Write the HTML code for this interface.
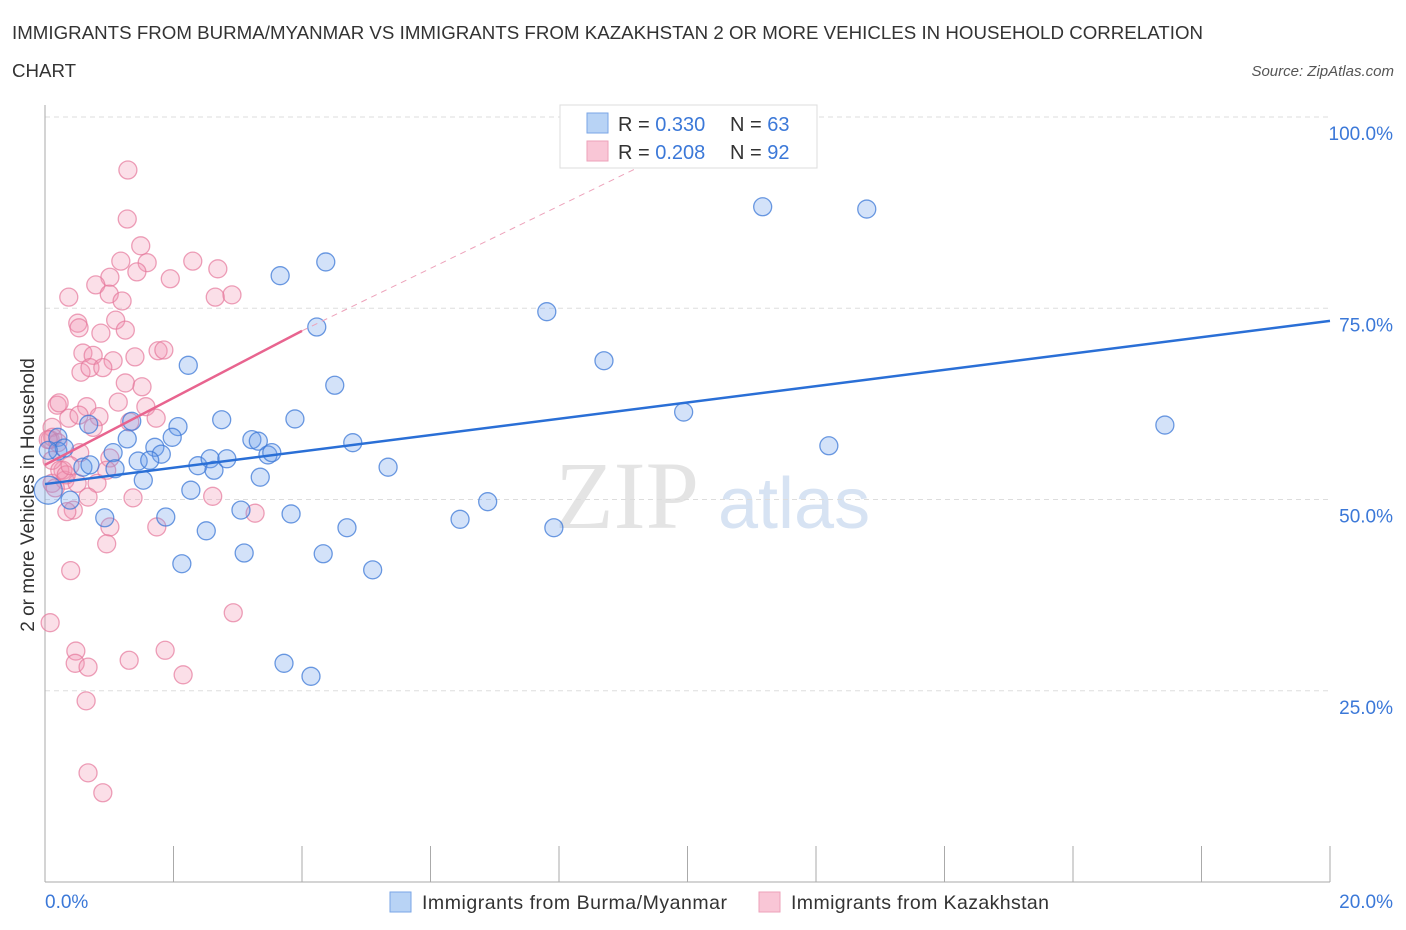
<!DOCTYPE html>
<html><head><meta charset="utf-8"><style>
body{margin:0;background:#fff;width:1406px;height:930px;overflow:hidden;font-family:"Liberation Sans",sans-serif}
svg{display:block}
</style></head><body>
<svg id="chart" width="1406" height="930">
<text x="12" y="39" font-size="18.7" fill="#333" textLength="1191">IMMIGRANTS FROM BURMA/MYANMAR VS IMMIGRANTS FROM KAZAKHSTAN 2 OR MORE VEHICLES IN HOUSEHOLD CORRELATION</text>
<text x="12" y="77" font-size="18.7" fill="#333">CHART</text>
<text x="1394" y="76" font-size="15" fill="#555" font-style="italic" text-anchor="end">Source: ZipAtlas.com</text>
<g><text x="555" y="528" font-size="96" fill="#e4e4e4" font-family="Liberation Serif,serif">ZIP</text><text x="718" y="528" font-size="72" fill="#d7e3f3">atlas</text></g>
<g id="grid"></g>
<g id="axes"></g>
<g id="marks"></g>
<g id="trends"></g>
<g>
<rect x="560" y="105" width="257" height="63" fill="#fff" stroke="#ddd"/>
<rect x="587" y="113" width="21" height="20" fill="#b8d3f5" stroke="#7aa6e6"/>
<rect x="587" y="141" width="21" height="20" fill="#f9c6d6" stroke="#eda2ba"/>
<text x="618" y="131" font-size="20" fill="#333">R = <tspan fill="#3b78d8">0.330</tspan></text>
<text x="730" y="131" font-size="20" fill="#333">N = <tspan fill="#3b78d8">63</tspan></text>
<text x="618" y="159" font-size="20" fill="#333">R = <tspan fill="#3b78d8">0.208</tspan></text>
<text x="730" y="159" font-size="20" fill="#333">N = <tspan fill="#3b78d8">92</tspan></text>
</g>
<g>
<rect x="390" y="892" width="21" height="20" fill="#b8d3f5" stroke="#7aa6e6"/>
<text x="422" y="909" font-size="19.5" fill="#333" textLength="305">Immigrants from Burma/Myanmar</text>
<rect x="759" y="892" width="21" height="20" fill="#f9c6d6" stroke="#eda2ba"/>
<text x="791" y="909" font-size="19.5" fill="#333" textLength="258">Immigrants from Kazakhstan</text>
</g>
<text transform="translate(34,495) rotate(-90)" font-size="19" fill="#333" text-anchor="middle">2 or more Vehicles in Household</text>
</svg>
<script>
const burmaX=[2.23,3.66,4.37,4.23,4.51,7.81,8.70,11.17,12.79,17.43,9.94,12.20,2.07,2.75,3.89,1.98,1.71,1.81,1.28,1.06,1.35,0.68,0.20,0.20,0.05,0.39,0.59,1.09,1.45,1.53,1.63,2.38,2.57,2.63,2.83,3.22,3.32,3.47,3.53,3.35,4.79,5.34,2.27,1.88,0.93,2.51,3.05,3.83,4.70,6.46,6.89,7.92,2.13,3.10,4.33,5.10,3.72,4.14,0.30,0.70,0.05];
const burmaY=[69.8,81.5,83.3,74.8,67.2,76.8,70.4,90.5,90.2,62.0,63.7,59.3,61.8,62.7,62.8,60.4,59.1,58.2,60.2,58.4,62.5,62.1,60.4,58.6,53.5,52.2,56.5,56.3,57.3,54.8,57.4,56.7,57.6,56.1,57.6,60.1,59.9,58.1,58.4,55.2,59.7,56.5,53.5,50.0,49.9,48.2,50.9,50.4,48.6,49.7,52.0,48.6,43.9,45.3,45.2,43.1,30.9,29.2,59.0,56.8,58.7];
const kazX=[1.29,1.28,1.49,1.18,1.59,1.43,1.01,0.79,1.00,1.20,0.37,2.30,2.69,1.95,2.65,2.91,0.51,0.53,1.10,1.25,0.87,1.76,1.85,0.59,0.75,1.40,1.06,0.56,0.70,0.90,1.25,1.51,1.14,1.57,1.73,0.19,0.22,0.65,0.84,0.37,0.53,1.32,0.75,0.11,0.08,0.12,0.20,0.54,0.28,0.31,0.11,0.50,0.81,1.01,0.96,0.67,0.44,0.34,1.37,1.01,1.74,2.61,3.27,0.96,0.40,2.93,0.08,0.48,0.47,0.67,1.31,1.87,2.15,0.64,0.67,0.90,0.11,0.23,0.33,0.05,0.16,0.39];
const kazY=[95.3,88.9,85.4,83.4,83.2,82.0,81.3,80.3,79.1,78.2,78.7,83.4,82.4,81.1,78.7,79.0,75.3,74.7,75.7,74.4,74.0,71.7,71.8,71.4,71.1,70.9,70.4,68.9,69.5,69.5,67.5,67.0,65.0,64.4,62.9,64.6,64.9,64.4,63.1,62.9,63.3,62.4,61.7,61.7,60.1,60.4,59.7,58.4,56.1,54.8,54.4,54.4,54.4,57.7,56.1,52.6,50.9,50.7,52.5,48.7,48.7,52.7,50.5,46.5,43.0,37.5,36.2,32.5,30.9,30.4,31.3,32.6,29.4,26.0,16.6,14.0,57.4,56.1,55.5,60.1,53.8,56.7];
const burmaTrend=[[0,54.3],[20,75.6]];
const kazTrend=[[0,56.8],[4,74.3]];
const kazTrendExt=[[4,74.3],[9.2,95.5]];
const yTicks=["100.0%","75.0%","50.0%","25.0%"];
const yTickVals=[100,75,50,25];

const NS="http://www.w3.org/2000/svg";
const xS=v=>45+v*64.25;
const yS=v=>900-v*7.66;
const gy=v=>882-v*7.65;
function mk(tag,attrs,parent){const e=document.createElementNS(NS,tag);for(const k in attrs)e.setAttribute(k,attrs[k]);parent.appendChild(e);return e;}
const grid=document.getElementById('grid'),axes=document.getElementById('axes'),marks=document.getElementById('marks'),trends=document.getElementById('trends');
yTickVals.forEach((v,i)=>{
  const l=mk('line',{x1:45,x2:1330,y1:gy(v),y2:gy(v),stroke:'#ddd','stroke-dasharray':'5,4'},grid);
  
  
  const t=mk('text',{x:1393,y:gy(v)+23,'font-size':19,fill:'#3b78d8','text-anchor':'end'},axes);
  t.textContent=yTicks[i];
  
  
});
const ax=mk('line',{x1:45,x2:45,y1:105,y2:882,stroke:'#aaa'},axes);


const bx=mk('line',{x1:45,x2:1330,y1:882,y2:882,stroke:'#aaa'},axes);


for(let i=0;i<=10;i++){
  const tk=mk('line',{x1:xS(i*2),x2:xS(i*2),y1:846,y2:882,stroke:'#aaa'},axes);
  
  
}
const x0=mk('text',{x:45,y:908,'font-size':19,fill:'#3b78d8'},axes);x0.textContent='0.0%';


const x1=mk('text',{x:1393,y:908,'font-size':19,fill:'#3b78d8','text-anchor':'end'},axes);x1.textContent='20.0%';


kazX.forEach((x,i)=>{
  const c=mk('circle',{cx:xS(x),cy:yS(kazY[i]),r:9,fill:'rgba(242,150,180,0.3)',stroke:'rgba(230,120,155,0.7)','stroke-width':1.3},marks);
  
  
});
burmaX.forEach((x,i)=>{
  const c=mk('circle',{cx:xS(x),cy:yS(burmaY[i]),r:i==24?14:9,fill:'rgba(110,160,235,0.3)',stroke:'rgba(60,120,215,0.75)','stroke-width':1.3},marks);
  
  
});
const bt=mk('line',{x1:xS(burmaTrend[0][0]),y1:yS(burmaTrend[0][1]),x2:xS(burmaTrend[1][0]),y2:yS(burmaTrend[1][1]),stroke:'#2a6fd6','stroke-width':2.5},trends);


const kt=mk('line',{x1:xS(kazTrend[0][0]),y1:yS(kazTrend[0][1]),x2:xS(kazTrend[1][0]),y2:yS(kazTrend[1][1]),stroke:'#e8648f','stroke-width':2.5},trends);


const ke=mk('line',{x1:xS(kazTrendExt[0][0]),y1:yS(kazTrendExt[0][1]),x2:xS(kazTrendExt[1][0]),y2:yS(kazTrendExt[1][1]),stroke:'#eda2ba','stroke-width':1,'stroke-dasharray':'6,5'},trends);


</script>
</body></html>
